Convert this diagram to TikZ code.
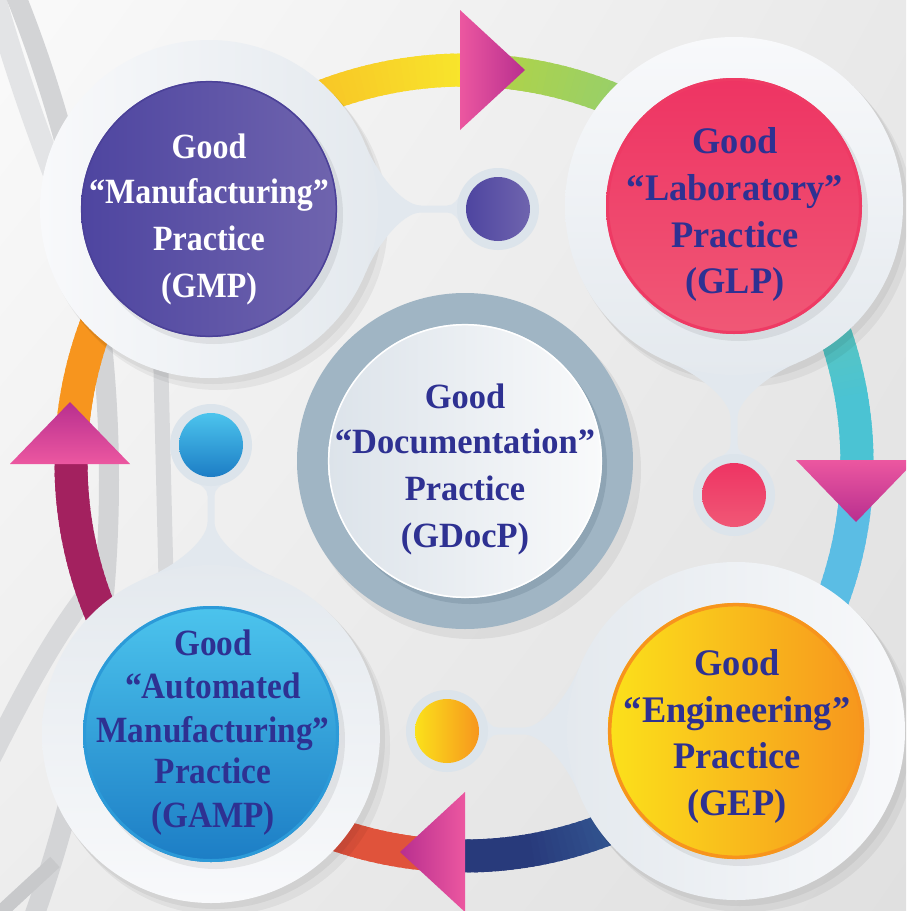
\documentclass[tikz,border=0pt]{standalone}
\usepackage{fontspec}
\usetikzlibrary{shadings}
\setmainfont{Liberation Serif}
\newfontfamily\tightserif[FakeStretch=0.9]{Liberation Serif}
\newfontfamily\wideserif[FakeStretch=0.97]{Liberation Serif}

% palette
\definecolor{navytext}{HTML}{2E3192}
\definecolor{bgA}{HTML}{FAFAFA}
\definecolor{bgB}{HTML}{E9E9E9}
\definecolor{bgC}{HTML}{EDEDED}
\definecolor{bgD}{HTML}{E0E0E0}
\definecolor{bandlight}{HTML}{E3E4E6}
\definecolor{banddark}{HTML}{D3D4D6}
\definecolor{bandmid}{HTML}{D8D9DB}
\definecolor{bandlow}{HTML}{C8C9CB}
\definecolor{discA}{HTML}{F8F9FB}
\definecolor{discB}{HTML}{E4E9EE}
\definecolor{neckfill}{HTML}{E2E8EE}
\definecolor{halofill}{HTML}{DCE4EB}
\definecolor{pinkA}{HTML}{EC57A0}
\definecolor{pinkB}{HTML}{B82F8F}
\definecolor{purA}{HTML}{4E45A0}
\definecolor{purB}{HTML}{6F64AE}
\definecolor{purRim}{HTML}{4B4198}
\definecolor{redA}{HTML}{EE3463}
\definecolor{redB}{HTML}{F05876}
\definecolor{redRim}{HTML}{EE3A64}
\definecolor{yelA}{HTML}{FBE11B}
\definecolor{yelB}{HTML}{F7961D}
\definecolor{yelRim}{HTML}{F7941D}
\definecolor{bluA}{HTML}{4CC4ED}
\definecolor{bluB}{HTML}{1C7DC5}
\definecolor{bluRim}{HTML}{2C9AD8}
\definecolor{grayring}{HTML}{A0B5C4}
\definecolor{grayringdark}{HTML}{8EA4B4}
\definecolor{docA}{HTML}{DCE3EA}
\definecolor{docB}{HTML}{F9FAFB}
% ring colours, one pair per quarter
\definecolor{qA}{HTML}{B0D348}
\definecolor{qB}{HTML}{4BC3D3}
\definecolor{qC}{HTML}{5BBDE4}
\definecolor{qD}{HTML}{283A7B}
\definecolor{qE}{HTML}{E0533B}
\definecolor{qF}{HTML}{A3215F}
\definecolor{qG}{HTML}{F7951E}
\definecolor{qH}{HTML}{F8E92C}

\tikzset{
  lbl/.style={anchor=base, inner sep=0pt, text=navytext},
  lblA/.style={lbl, font={\tightserif\bfseries\fontsize{35.5}{40}\selectfont}},
  lblB/.style={lbl, font={\wideserif\bfseries\fontsize{37.5}{42}\selectfont}},
  lblC/.style={lbl, font={\tightserif\bfseries\fontsize{37}{42}\selectfont}},
  lblD/.style={lbl, font={\wideserif\bfseries\fontsize{35.5}{40}\selectfont}},
  softshadow/.style={fill=black, opacity=0.05},
  halo/.style={fill=halofill},
}

% one quarter of the big ring, drawn as short arcs whose colour runs
% from #5 (at angle #3) to #6 (at angle #4)
\newcommand\ringpart[6]{%
  \foreach \a in {#1,...,#2}{%
    \pgfmathsetmacro\f{max(0,min(100,100*(\a-(#3))/((#4)-(#3))))}%
    \draw[line width=33, color=#6!\f!#5] (464,463) ++(\a:393)
      arc[start angle=\a, delta angle=1.6, radius=393];
  }}

% the narrow waist joining a big disc (at #1) to its small dot,
% pointing in direction #2
\newcommand\waist[2]{%
  \begin{scope}[shift={(#1)}, rotate=#2]
    \fill[neckfill] (157,-63) .. controls (166,-40) and (192,-3.5) .. (212,-3.5)
      -- (238,-3.5) .. controls (245,-3.5) and (248.5,-9) .. (253,-18)
      -- (253,18) .. controls (248.5,9) and (245,3.5) .. (238,3.5)
      -- (212,3.5) .. controls (192,3.5) and (166,40) .. (157,63) -- cycle;
  \end{scope}}

\begin{document}
\begin{tikzpicture}[x=1pt, y=-1pt]
\useasboundingbox (0,0) rectangle (906,911);
\clip (0,0) rectangle (906,911);

% background
\shade[upper left=bgA, upper right=bgB, lower left=bgC, lower right=bgD]
  (0,0) rectangle (906,911);

% decorative swooshes on the left
\draw[line width=22, bandlight] (-8,-12) .. controls (10,50) and (28,110) .. (70,215);
\draw[line width=20, banddark] (-1191,480) circle (1300);
\draw[line width=15, bandmid] (160,330) -- (167,620);
\draw[line width=20, bandmid] (-25,790) .. controls (15,710) and (50,640) .. (92,588);
\draw[line width=14, bandlow] (-10,922) -- (55,862);

% big cycle ring
\ringpart{-86}{4}{-86}{-10}{qA}{qB}
\ringpart{4}{94}{20}{80}{qC}{qD}
\ringpart{95}{184}{105}{150}{qE}{qF}
\ringpart{185}{274}{215}{272}{qG}{qH}

% arrow heads on the ring
\shade[left color=pinkA, right color=pinkB] (460,10) -- (525,70) -- (460,130) -- cycle;
\shade[top color=pinkA, bottom color=pinkB] (796,460) -- (916,460) -- (856,522) -- cycle;
\shade[left color=pinkB, right color=pinkA] (465,792) -- (465,912) -- (400,852) -- cycle;
\shade[top color=pinkB, bottom color=pinkA] (10,464) -- (130,464) -- (70,402) -- cycle;

% shadows under the four big discs
\foreach \cx/\cy in {209/209, 734/206, 736/731, 211/734}{
  \fill[softshadow] (\cx+4,\cy+5) circle (170);
  \fill[softshadow] (\cx+9,\cy+11) circle (170);
}

% waists joining discs and dots
\waist{209,209}{0}
\waist{734,206}{-90}
\waist{736,731}{180}
\waist{211,734}{90}

% halos of the small dots
\fill[halo] (498,209) circle (41);
\fill[halo] (734,495) circle (41);
\fill[halo] (447,731) circle (41);
\fill[halo] (211,445) circle (41);

% big white discs, darker on the side of their waist
\shade[left color=discA, right color=discB] (209,209) circle (169);
\shade[top color=discA, bottom color=discB] (734,206) circle (169);
\shade[left color=discB, right color=discA] (736,731) circle (169);
\shade[top color=discB, bottom color=discA] (211,734) circle (169);

% shadows of the coloured faces
\fill[black, opacity=0.07] (214,215) circle (129);
\fill[black, opacity=0.07] (739,212) circle (129);
\fill[black, opacity=0.07] (741,737) circle (129);
\fill[black, opacity=0.07] (216,740) circle (129);

% coloured faces
\shade[left color=purA, right color=purB] (209,209) circle (128);
\draw[purRim, line width=1.5] (209,209) circle (127.3);
\shade[top color=redA, bottom color=redB] (734,206) circle (128);
\draw[redRim, line width=3] (734,206) circle (126.5);
\shade[left color=yelA, right color=yelB] (736,731) circle (128);
\draw[yelRim, line width=3.5] (736,731) circle (126.3);
\shade[top color=bluA, bottom color=bluB] (211,734) circle (128);
\draw[bluRim, line width=3] (211,734) circle (126.5);

% small dots
\shade[left color=purA, right color=purB] (498,209) circle (32);
\shade[top color=redA, bottom color=redB] (734,495) circle (32);
\shade[left color=yelA, right color=yelB] (447,731) circle (32);
\shade[top color=bluA, bottom color=bluB] (211,445) circle (32);

% centre badge
\fill[black, opacity=0.06] (472,470) circle (169);
\fill[grayring] (465,461) circle (168);
\fill[grayringdark] (470,467) circle (137);
\shade[left color=docA, right color=docB] (465,461) circle (137);
\draw[white, line width=1.5] (465,461) circle (136.3);

% labels
\node[lblA, text=white] (gmp-1) at (209,158) {Good};
\node[lblA, text=white] (gmp-2) at (209,203) {“Manufacturing”};
\node[lblA, text=white] (gmp-3) at (209,250) {Practice};
\node[lblA, text=white] (gmp-4) at (209,297) {(GMP)};

\node[lblB] (glp-1) at (735,153) {Good};
\node[lblB] (glp-2) at (735,200) {“Laboratory”};
\node[lblB] (glp-3) at (735,247) {Practice};
\node[lblB] (glp-4) at (735,293) {(GLP)};

\node[lblB] (gep-1) at (737,675) {Good};
\node[lblB] (gep-2) at (737,722) {“Engineering”};
\node[lblB] (gep-3) at (737,768) {Practice};
\node[lblB] (gep-4) at (737,815) {(GEP)};

\node[lblC] (gamp-1) at (213,655) {Good};
\node[lblC] (gamp-2) at (213,698) {“Automated};
\node[lblC] (gamp-3) at (213,742) {Manufacturing”};
\node[lblC] (gamp-4) at (213,783) {Practice};
\node[lblC] (gamp-5) at (213,827) {(GAMP)};

\node[lblD] (gdocp-1) at (465,408) {Good};
\node[lblD] (gdocp-2) at (465,453) {“Documentation”};
\node[lblD] (gdocp-3) at (465,500) {Practice};
\node[lblD] (gdocp-4) at (465,547) {(GDocP)};
\end{tikzpicture}
\end{document}
